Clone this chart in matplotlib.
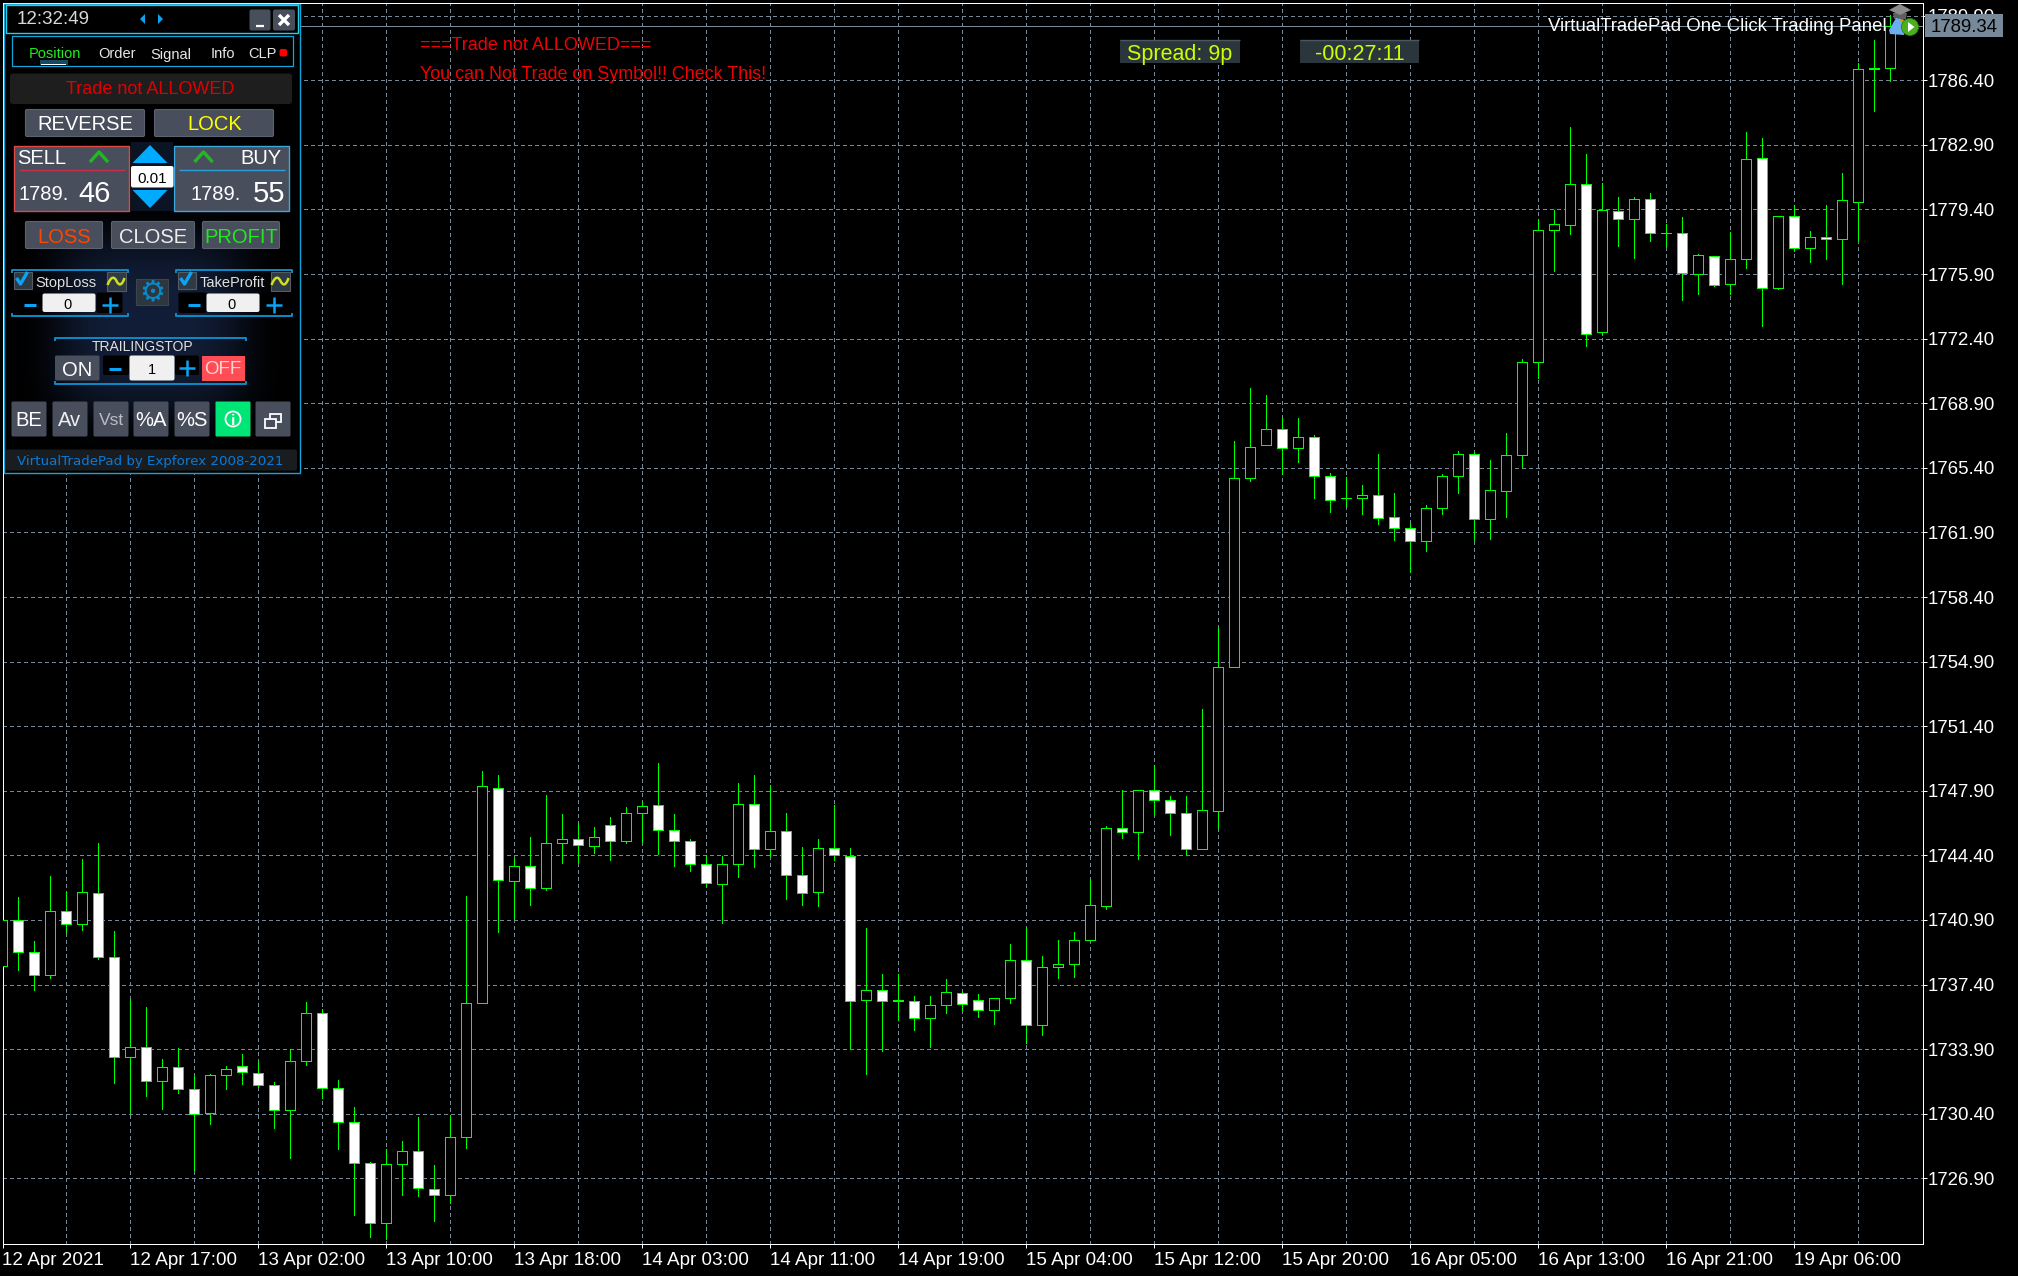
#! /usr/bin/python3

import numpy as np
import matplotlib
matplotlib.use('Agg')
from matplotlib import pyplot as plt
from matplotlib.colors import to_rgb
from matplotlib.patches import Rectangle, FancyBboxPatch, Polygon, Circle, PathPatch
from matplotlib.path import Path

plt.rcParams['font.family'] = ['Liberation Sans', 'DejaVu Sans']

opens = [1738.42, 1740.88, 1739.14, 1737.90, 1741.37, 1740.66, 1742.34, 1738.87, 1733.46, 1734.03,
         1732.16, 1732.95, 1731.72, 1730.42, 1732.48, 1733.00, 1732.62, 1731.94, 1730.58, 1733.24,
         1735.84, 1731.78, 1729.93, 1727.71, 1724.46, 1727.66, 1728.36, 1726.30, 1725.98, 1729.12,
         1736.38, 1748.03, 1743.00, 1743.80, 1742.61, 1745.05, 1745.27, 1744.89, 1746.03, 1745.16,
         1746.68, 1747.11, 1745.75, 1745.16, 1743.91, 1742.83, 1743.91, 1747.16, 1744.73, 1745.70,
         1743.32, 1742.40, 1744.78, 1744.35, 1736.54, 1737.09, 1736.54, 1736.49, 1735.57, 1736.27,
         1736.92, 1736.54, 1736.00, 1736.65, 1738.71, 1735.19, 1738.33, 1738.49, 1739.79, 1741.64,
         1745.86, 1745.65, 1747.92, 1747.38, 1746.68, 1744.73, 1746.78, 1754.60, 1764.84, 1766.62,
         1767.49, 1766.46, 1767.06, 1764.95, 1763.75, 1763.75, 1763.92, 1762.72, 1762.13, 1761.42,
         1763.21, 1764.95, 1766.14, 1762.62, 1764.13, 1766.08, 1771.15, 1778.31, 1778.58, 1780.80,
         1772.78, 1779.34, 1778.90, 1779.99, 1778.14, 1778.14, 1775.92, 1776.90, 1775.38, 1776.73,
         1782.21, 1775.16, 1779.06, 1777.33, 1777.93, 1777.82, 1779.82, 1787.08, 1787.08]
highs = [1740.88, 1742.12, 1739.74, 1743.26, 1742.40, 1744.18, 1745.05, 1740.28, 1736.63, 1736.16,
         1733.35, 1733.94, 1732.43, 1732.55, 1732.97, 1733.62, 1733.28, 1732.10, 1733.89, 1736.44,
         1736.06, 1732.21, 1730.75, 1727.78, 1728.47, 1728.90, 1730.20, 1727.60, 1730.31, 1742.18,
         1748.95, 1748.73, 1744.24, 1745.38, 1747.65, 1746.62, 1746.13, 1745.92, 1746.46, 1747.00,
         1747.36, 1749.38, 1746.62, 1745.27, 1744.42, 1744.36, 1748.30, 1748.73, 1748.19, 1746.68,
         1744.83, 1745.27, 1747.11, 1744.78, 1740.45, 1737.95, 1737.95, 1736.76, 1736.76, 1737.68,
         1737.03, 1736.87, 1736.65, 1739.58, 1740.54, 1738.93, 1739.79, 1740.23, 1743.10, 1745.97,
         1747.92, 1747.92, 1749.28, 1747.60, 1747.60, 1752.34, 1756.78, 1766.84, 1769.71, 1769.33,
         1768.18, 1768.09, 1767.17, 1765.11, 1764.89, 1764.46, 1766.14, 1764.02, 1762.40, 1763.37,
         1765.05, 1766.30, 1766.25, 1765.81, 1767.27, 1771.32, 1778.87, 1779.39, 1783.89, 1782.39,
         1780.82, 1780.09, 1780.09, 1780.31, 1778.63, 1779.01, 1777.01, 1776.90, 1778.20, 1783.62,
         1783.29, 1779.06, 1779.66, 1778.25, 1779.66, 1781.39, 1787.35, 1788.60, 1789.95]
lows = [1738.42, 1738.21, 1737.12, 1737.77, 1740.17, 1740.37, 1738.78, 1732.08, 1730.42, 1731.38,
        1730.67, 1731.54, 1727.37, 1729.86, 1731.76, 1732.03, 1731.87, 1729.65, 1728.02, 1733.04,
        1731.27, 1728.51, 1724.93, 1723.74, 1723.60, 1726.02, 1725.96, 1724.61, 1725.55, 1728.56,
        1736.38, 1740.26, 1740.95, 1741.73, 1742.54, 1744.00, 1744.02, 1744.54, 1744.17, 1745.09,
        1745.10, 1744.47, 1743.84, 1743.57, 1742.72, 1740.75, 1743.24, 1743.79, 1744.36, 1742.05,
        1741.73, 1741.67, 1744.13, 1733.98, 1732.57, 1733.82, 1735.50, 1734.95, 1734.03, 1735.88,
        1736.00, 1735.66, 1735.28, 1736.42, 1734.25, 1734.68, 1737.77, 1737.83, 1739.79, 1741.51,
        1745.36, 1744.22, 1746.62, 1745.52, 1744.49, 1744.73, 1745.85, 1754.60, 1764.66, 1766.62,
        1765.09, 1765.74, 1763.79, 1763.03, 1763.30, 1762.92, 1762.38, 1761.51, 1759.73, 1760.90,
        1762.92, 1764.06, 1761.51, 1761.57, 1762.71, 1765.43, 1770.27, 1776.05, 1778.07, 1772.00,
        1772.60, 1777.42, 1776.77, 1777.69, 1777.37, 1774.49, 1774.82, 1775.25, 1774.82, 1776.23,
        1773.09, 1775.09, 1777.17, 1776.55, 1776.72, 1775.36, 1777.75, 1784.73, 1786.38]
closes = [1740.88, 1739.14, 1737.90, 1741.37, 1740.66, 1742.40, 1738.87, 1733.46, 1734.00, 1732.16,
          1732.95, 1731.72, 1730.37, 1732.48, 1732.81, 1732.64, 1731.94, 1730.58, 1733.24, 1735.84,
          1731.78, 1729.93, 1727.71, 1724.46, 1727.66, 1728.36, 1726.36, 1725.98, 1729.12, 1736.38,
          1748.14, 1743.05, 1743.80, 1742.61, 1745.05, 1745.27, 1744.94, 1745.38, 1745.16, 1746.68,
          1747.06, 1745.75, 1745.16, 1743.91, 1742.88, 1743.91, 1747.16, 1744.73, 1745.70, 1743.32,
          1742.34, 1744.78, 1744.40, 1736.49, 1737.09, 1736.49, 1736.49, 1735.57, 1736.27, 1736.98,
          1736.33, 1736.00, 1736.65, 1738.71, 1735.19, 1738.33, 1738.49, 1739.79, 1741.69, 1745.86,
          1745.65, 1747.92, 1747.38, 1746.68, 1744.73, 1746.84, 1754.60, 1764.84, 1766.52, 1767.49,
          1766.46, 1767.06, 1764.95, 1763.64, 1763.75, 1763.92, 1762.67, 1762.13, 1761.42, 1763.21,
          1764.95, 1766.14, 1762.62, 1764.19, 1766.08, 1771.15, 1778.31, 1778.63, 1780.80, 1772.67,
          1779.39, 1778.90, 1779.99, 1778.14, 1778.14, 1775.98, 1776.95, 1775.33, 1776.73, 1782.15,
          1775.16, 1779.06, 1777.33, 1777.93, 1777.82, 1779.93, 1787.03, 1787.03, 1789.34]

price_ticks = [1789.90, 1786.40, 1782.90, 1779.40, 1775.90, 1772.40, 1768.90, 1765.40, 1761.90, 1758.40,
               1754.90, 1751.40, 1747.90, 1744.40, 1740.90, 1737.40, 1733.90, 1730.40, 1726.90]
time_labels = ['12 Apr 2021', '12 Apr 17:00', '13 Apr 02:00', '13 Apr 10:00', '13 Apr 18:00',
               '14 Apr 03:00', '14 Apr 11:00', '14 Apr 19:00', '15 Apr 04:00', '15 Apr 12:00',
               '15 Apr 20:00', '16 Apr 05:00', '16 Apr 13:00', '16 Apr 21:00', '19 Apr 06:00']
last_price = 1789.34

W, H = 2018, 1276
GRID = '#778899'
GREEN = '#00ff00'
BLUE = '#0ba4f4'
BTN = '#484e5c'
PX = 0.72  # one pixel in points at dpi 100

fig = plt.figure(figsize=(W / 100, H / 100), dpi=100, facecolor='black')
ax = fig.add_axes([2.5 / W, 1 - 1243.5 / H, 1920 / W, 1241 / H], facecolor='black')
ax.set_xlim(0.03, 120.03)
ax.set_ylim(1786.40 - (1243.5 - 80.3) / 18.454, 1786.40 + (80.3 - 2.5) / 18.454)

for s in ax.spines.values():
    s.set_color('white')
    s.set_linewidth(PX)

# grid is every 4 bars, time labels every 8
ax.set_xticks(range(0, 119, 8))
ax.set_xticklabels(time_labels, ha='left', color='white', fontsize=13.6)
ax.set_xticks(range(4, 119, 4), minor=True)
ax.yaxis.tick_right()
ax.set_yticks(price_ticks)
ax.set_yticklabels(['%.2f' % p for p in price_ticks], color='white', fontsize=13.4)
ax.tick_params(axis='x', which='major', color='white', length=3, width=PX, pad=3)
ax.tick_params(axis='x', which='minor', length=0)
ax.tick_params(axis='y', color='white', length=3, width=PX, pad=1)
ax.set_axisbelow(True)
dash = (0, (3, 3))
ax.grid(True, axis='y', color=GRID, lw=PX, linestyle=dash, antialiased=False)
ax.grid(True, axis='x', which='both', color=GRID, lw=PX, linestyle=dash, antialiased=False)
ax.axhline(last_price, color=GRID, lw=PX, zorder=1.2, antialiased=False)

idx = np.arange(len(opens))
ax.vlines(idx, lows, highs, color=GREEN, lw=PX, zorder=2, antialiased=False)
for i in idx:
    o, c = opens[i], closes[i]
    ax.add_patch(Rectangle((i - 0.3125, min(o, c)), 0.625, abs(c - o), zorder=3, lw=PX,
                           facecolor='white' if c < o else 'black', edgecolor=GREEN, antialiased=False))

# everything below sits on a pixel overlay, same coordinates as the screenshot
ui = fig.add_axes([0, 0, 1, 1], zorder=5)
ui.patch.set_alpha(0)
ui.axis('off')


def box(x0, y0, x1, y1, fc=BTN, ec='none', lw=0.8, r=0, z=6):
    if r:
        p = FancyBboxPatch((x0, y0), x1 - x0, y1 - y0, boxstyle='round,pad=0,rounding_size=%g' % r,
                           fc=fc, ec=ec, lw=lw, zorder=z)
    else:
        p = Rectangle((x0, y0), x1 - x0, y1 - y0, fc=fc, ec=ec, lw=lw, zorder=z)
    ui.add_patch(p)


def txt(x, y, s, color='white', size=10, ha='center', **kw):
    ui.text(x, y, s, color=color, fontsize=size, ha=ha, va='center_baseline', zorder=9, **kw)


def line(xs, ys, color=BLUE, lw=1.5, z=8):
    ui.plot(xs, ys, color=color, lw=lw, zorder=z, solid_capstyle='butt')


def bracket(x0, x1, y0, y1):
    col = '#0a8cc8'
    line([x0, x0, x1, x1], [y0 + 3, y0, y0, y0 + 3], col, 1.4)
    line([x0, x0, x1, x1], [y1 - 3, y1, y1, y1 - 3], col, 1.4)


def plus(x, y):
    line([x - 8, x + 8], [y, y], BLUE, 1.8)
    line([x, x], [y - 8, y + 8], BLUE, 1.8)


def chevron(x, y):
    line([x - 9, x, x + 9], [y + 5, y - 5, y + 5], '#22b822', 2.4)


def wave(x0, y0):
    verts = [(x0, y0 + 4), (x0 + 4, y0 - 6), (x0 + 7, y0 - 4), (x0 + 9, y0),
             (x0 + 11, y0 + 4), (x0 + 14, y0 + 6), (x0 + 17, y0 - 3)]
    ui.add_patch(PathPatch(Path(verts, [1, 4, 4, 4, 4, 4, 4]), fc='none', ec='#d0e020', lw=1.8, zorder=8))


def check(x, y):
    line([x - 5, x - 1, x + 6], [y - 1, y + 5, y - 7], BLUE, 2.4)


# panel background with the faint navy glow
box(3.5, 3.5, 300, 473, fc='black', ec='#12a5dc', lw=1, z=5)
gy, gx = np.mgrid[34:448, 5:298]
glow = np.exp(-(((gx - 150) / 95.0) ** 4 + ((gy - 325) / 90.0) ** 4))
rgba = np.zeros(gx.shape + (4,))
rgba[..., :3] = to_rgb('#121e38')
rgba[..., 3] = glow
ui.imshow(rgba, extent=(5, 298, 448, 34), aspect='auto', zorder=5.5)
ui.set_xlim(0, W)
ui.set_ylim(H, 0)

# title bar
box(5.5, 5, 298, 33, fc='black', ec='#1fd2e6', lw=1)
txt(17, 18, '12:32:49', '#d8d8d8', 13.5, ha='left')
ui.add_patch(Polygon([(145, 14), (145, 24), (140, 19)], fc=BLUE, zorder=8))
ui.add_patch(Polygon([(158, 14), (158, 24), (163, 19)], fc=BLUE, zorder=8))
box(249.5, 9.5, 270.5, 30.5, r=2)
line([256, 264], [26, 26], 'white', 1.6)
box(273, 9.5, 295, 30.5, r=2)
line([279, 289], [15, 25], 'white', 2.4)
line([279, 289], [25, 15], 'white', 2.4)

# tabs
box(11.5, 35.5, 292.5, 65.5, fc='black', ec='#12a5dc', lw=0.9)
box(39.5, 59.5, 68, 65, fc='#174a60')
box(41, 64, 66, 65.3, fc='white', z=7)
txt(54.5, 53, 'Position', '#22ee22', 10.5)
txt(117, 53, 'Order', '#e8e8e8', 10.5)
txt(170.5, 53, 'Signal', '#e8e8e8', 10.5)
txt(222.5, 53, 'Info', '#e8e8e8', 10.5)
txt(262, 53, 'CLP', '#e8e8e8', 10.5)
box(279.5, 49, 287, 56.5, fc='#ff0000', r=2)

box(10, 73.5, 292, 104, fc='#1e1e1e', r=3)
txt(150.5, 88, 'Trade not ALLOWED', '#e00000', 13)

box(25.5, 109.5, 144.5, 136.5, ec='#5c6270', r=1.5)
txt(85, 123, 'REVERSE', 'white', 14.5)
box(154.5, 109.5, 273.5, 136.5, ec='#5c6270', r=1.5)
txt(215, 123, 'LOCK', '#ffff00', 14.5)

# sell / lot / buy
box(13.5, 145.5, 128.5, 210.5, ec='#e04848', lw=1)
txt(17, 156, 'SELL', 'white', 14.5, ha='left')
chevron(99, 157)
line([19, 125], [169.5, 169.5], '#c8304a', 1)
txt(19, 193, '1789.', 'white', 14.5, ha='left')
txt(78.5, 191, '46', 'white', 21, ha='left')

box(173.5, 145.5, 288.5, 210.5, ec='#3ca8e0', lw=1)
txt(281, 156, 'BUY', 'white', 14.5, ha='right')
chevron(203.5, 157)
line([179, 285], [169.5, 169.5], '#2ca0dc', 1)
txt(190.5, 193, '1789.', 'white', 14.5, ha='left')
txt(252.5, 191, '55', 'white', 21, ha='left')

box(131, 142, 173, 210.5, fc='#0a1424')
ui.add_patch(Polygon([(132.5, 163), (167.5, 163), (150, 145)], fc='#00aaff', zorder=8))
ui.add_patch(Polygon([(132.5, 190), (167.5, 190), (150, 208)], fc='#00aaff', zorder=8))
box(131, 166, 173.5, 187.5, fc='white', r=2, z=8)
txt(152, 177.5, '0.01', 'black', 11)

for x0, x1, s, c in [(25.5, 102.5, 'LOSS', '#ff4500'), (111.5, 194.5, 'CLOSE', '#eeeeee'),
                     (202.5, 279.5, 'PROFIT', '#22e822')]:
    box(x0, 221.5, x1, 248.5, ec='#5c6270', r=1.5)
    txt((x0 + x1) / 2, 235.5, s, c, 14.5)

# stoploss / takeprofit
for x0, name, tx in [(11.5, 'StopLoss', 35.5), (175.5, 'TakeProfit', 200)]:
    bracket(x0, x0 + 116, 269.5, 316)
    box(x0 + 2, 271.5, x0 + 20, 289, fc='#2e3a44', ec='#555b60')
    check(x0 + 10, 279)
    txt(tx, 281.5, name, '#e0e0e0', 10.5, ha='left')
    box(x0 + 95, 271.5, x0 + 114, 290.5, fc='#2e3a44', ec='#555b60')
    wave(x0 + 96, 281)
    box(x0 + 85, 292.5, x0 + 111, 313, fc='black', r=2, z=6.5)
    box(x0 + 3, 292.5, x0 + 31, 313, fc='black', r=2, z=6.5)
    line([x0 + 12.5, x0 + 24.5], [305, 305], BLUE, 2.2)
    box(x0 + 31, 293.5, x0 + 84, 312, fc='#f0f0f0', r=2, z=7)
    txt(x0 + 56.5, 303.5, '0', 'black', 10.5)
    plus(x0 + 98.5, 304.5)

box(136, 278.5, 168, 305, fc='#2e3640', ec='#3c444e')
ui.text(152, 292.5, '\u2699', color='#0a88c8', fontsize=21, family='DejaVu Sans', ha='center',
        va='center', zorder=9)

# trailing stop
bracket(54.5, 245.5, 337.5, 384)
txt(142.5, 345.5, 'TRAILINGSTOP', '#e0e0e0', 10)
box(55, 355.5, 99.5, 380.5, r=1.5)
txt(77.5, 368, 'ON', 'white', 14.5)
box(103, 355.5, 129, 375, fc='black', r=2, z=6.5)
box(175, 355.5, 199, 375, fc='black', r=2, z=6.5)
line([109, 121], [368.5, 368.5], BLUE, 2.2)
box(129.5, 355.5, 174.5, 380.5, fc='#f0f0f0', r=2)
txt(151.5, 368.5, '1', 'black', 10.5)
plus(186.5, 367.5)
box(201.5, 355.5, 244.5, 380.5, fc='#ff4d55')
txt(223, 368, 'OFF', '#ffd0d0', 13.5)

# bottom row
for x0, s, c, size in [(11.5, 'BE', 'white', 14.5), (52.5, 'Av', '#eeeeee', 14.5), (93.5, 'Vst', '#b8bcc4', 12.5),
                       (133.5, '%A', 'white', 14.5), (174.5, '%S', 'white', 14.5)]:
    box(x0, 401.5, x0 + 35, 436.5, r=1.5)
    txt(x0 + 17.5, 419, s, c, size)
box(215.5, 401.5, 250.5, 436.5, fc='#00e676', r=1)
ui.add_patch(Circle((233, 419), 7.5, fc='none', ec='white', lw=1.3, zorder=8))
txt(233, 419.5, 'i', 'white', 11, fontweight='bold')
box(255.5, 401.5, 290.5, 436.5, r=1.5)
box(270, 414, 281, 422, fc=BTN, ec='white', lw=1.3, z=7)
box(265, 419, 276, 428, fc=BTN, ec='white', lw=1.3, z=7.5)

box(5, 449.5, 297, 470.5, fc='#191d20', r=2)
txt(150.5, 460.5, 'VirtualTradePad by Expforex 2008-2021', '#0a7ad8', 9.6, family='DejaVu Sans')

# messages over the chart
txt(420.5, 43, '===Trade not ALLOWED===', '#f00000', 13, ha='left')
txt(420.5, 72.5, 'You can Not Trade on Symbol!! Check This!', '#f00000', 12.9, ha='left')
for x0, x1, s in [(1120, 1240, 'Spread: 9p'), (1300, 1419, '-00:27:11')]:
    box(x0, 39.5, x1, 62.5, fc='#2a363c')
    line([x0, x1], [40, 40], '#4a5660', 1)
    txt((x0 + x1) / 2, 52, s, '#ccff00', 15.5)

txt(1548, 24.5, 'VirtualTradePad One Click Trading Panel', 'white', 13.4, ha='left')
# expert advisor icon
ui.add_patch(Polygon([(1889, 10), (1900, 4), (1911, 10), (1900, 15)], fc='#8c8c8c', zorder=8))
ui.add_patch(Polygon([(1893, 13), (1907, 13), (1906, 19), (1894, 19)], fc='#5e5e5e', zorder=7.5))
ui.add_patch(Polygon([(1896, 18), (1904, 20), (1904, 35), (1890, 34), (1889, 30)], fc='#6aaef0', zorder=8))
ui.add_patch(Polygon([(1899, 19), (1906, 20), (1906, 28)], fc='#c8a020', zorder=8.2))
ui.add_patch(Circle((1910, 27), 8.5, fc='#4caf1e', ec='#2c7a10', lw=0.6, zorder=8.5))
ui.add_patch(Polygon([(1908, 22), (1908, 32), (1914.5, 27)], fc='white', zorder=9))

# last price tag
box(1925, 14, 2003, 36.5, fc=GRID)
txt(1964, 25.5, '%.2f' % last_price, 'black', 13.4)

fig.savefig('out.png', dpi=100, facecolor='black')
